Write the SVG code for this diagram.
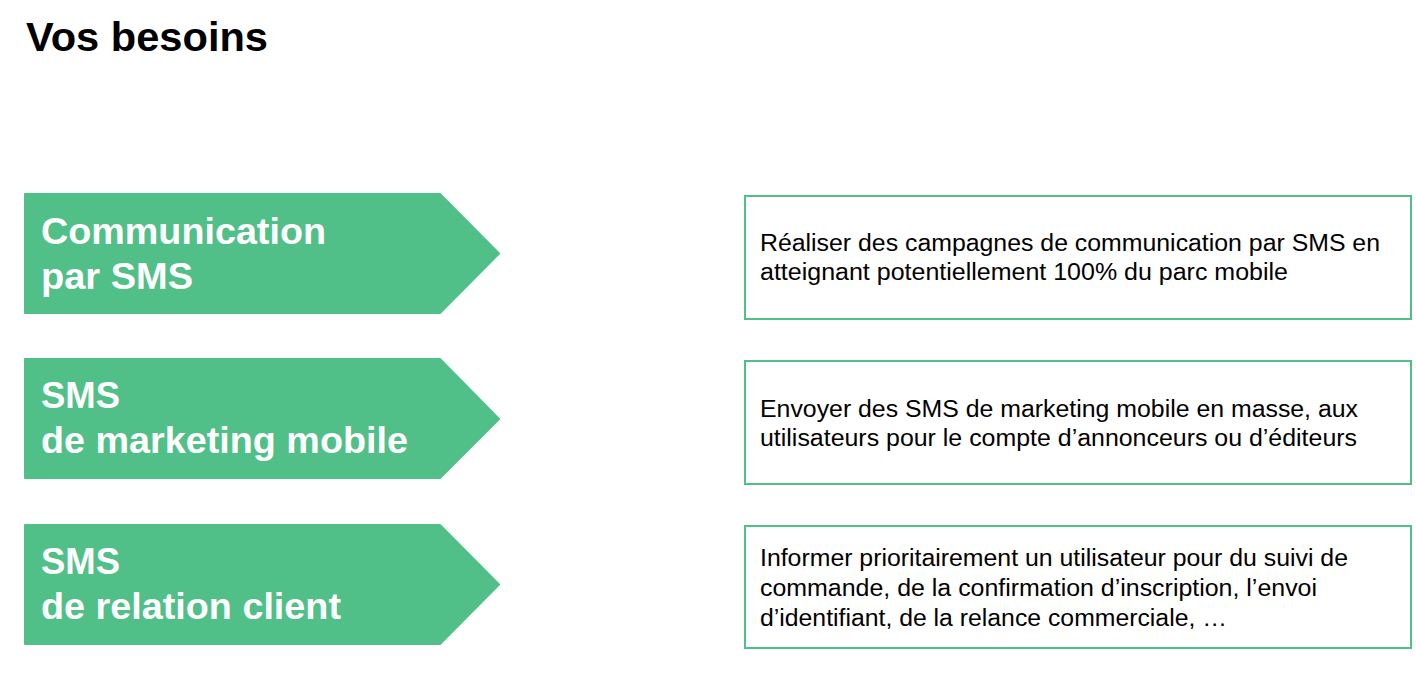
<svg xmlns="http://www.w3.org/2000/svg" width="1416" height="695" viewBox="0 0 1416 695">
<style>
.arrow{fill:#51bf88;stroke:#51bf88;stroke-width:2;stroke-linejoin:round}
.box{fill:#ffffff;stroke:#51bf88;stroke-width:2}
.lbl{font-family:"Liberation Sans",Arial,sans-serif;font-weight:bold;font-size:37.5px;fill:#ffffff}
.desc{font-family:"Liberation Sans",Arial,sans-serif;font-size:23px;fill:#000000}
.title{font-family:"Liberation Sans",Arial,sans-serif;font-weight:bold;font-size:40px;fill:#000000}
</style>
<rect width="1416" height="695" fill="#ffffff"/>
<text class="title" x="26" y="51" textLength="242" lengthAdjust="spacingAndGlyphs">Vos besoins</text>
<g id="need1">
<polygon class="arrow" points="25,194 440,194 499,253.5 440,313 25,313"/>
<text class="lbl" x="41" y="244" textLength="285" lengthAdjust="spacingAndGlyphs">Communication</text>
<text class="lbl" x="41" y="289" textLength="152" lengthAdjust="spacingAndGlyphs">par SMS</text>
</g>
<g id="desc1">
<rect class="box" x="745" y="196" width="666" height="123"/>
<text class="desc" x="760" y="251" textLength="620" lengthAdjust="spacingAndGlyphs">Réaliser des campagnes de communication par SMS en</text>
<text class="desc" x="760" y="280" textLength="528" lengthAdjust="spacingAndGlyphs">atteignant potentiellement 100% du parc mobile</text>
</g>
<g id="need2">
<polygon class="arrow" points="25,359 440,359 499,419 440,478 25,478"/>
<text class="lbl" x="41" y="408" textLength="79" lengthAdjust="spacingAndGlyphs">SMS</text>
<text class="lbl" x="41" y="453" textLength="367" lengthAdjust="spacingAndGlyphs">de marketing mobile</text>
</g>
<g id="desc2">
<rect class="box" x="745" y="361" width="666" height="123"/>
<text class="desc" x="760" y="417" textLength="598" lengthAdjust="spacingAndGlyphs">Envoyer des SMS de marketing mobile en masse, aux</text>
<text class="desc" x="760" y="446" textLength="597" lengthAdjust="spacingAndGlyphs">utilisateurs pour le compte d’annonceurs ou d’éditeurs</text>
</g>
<g id="need3">
<polygon class="arrow" points="25,525 440,525 499,584.5 440,644 25,644"/>
<text class="lbl" x="41" y="574" textLength="79" lengthAdjust="spacingAndGlyphs">SMS</text>
<text class="lbl" x="41" y="619" textLength="300" lengthAdjust="spacingAndGlyphs">de relation client</text>
</g>
<g id="desc3">
<rect class="box" x="745" y="526" width="666" height="122"/>
<text class="desc" x="760" y="566" textLength="588" lengthAdjust="spacingAndGlyphs">Informer prioritairement un utilisateur pour du suivi de</text>
<text class="desc" x="760" y="596" textLength="557" lengthAdjust="spacingAndGlyphs">commande, de la confirmation d’inscription, l’envoi</text>
<text class="desc" x="760" y="626" textLength="467" lengthAdjust="spacingAndGlyphs">d’identifiant, de la relance commerciale, …</text>
</g>
<g id="connectors"></g>
</svg>
